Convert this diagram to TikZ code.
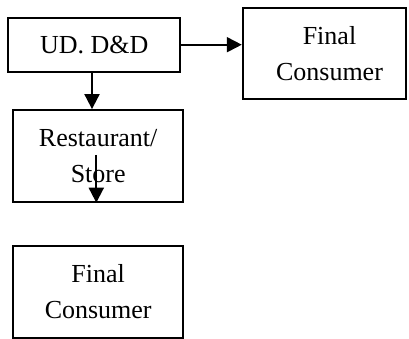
\documentclass[tikz,border=0pt]{standalone}
\usepackage{fontspec}
\setmainfont{Liberation Serif}
\usetikzlibrary{arrows.meta}
\begin{document}
\begin{tikzpicture}[x=1pt,y=1pt,
  box/.style={draw, line width=1.9pt, rectangle, inner sep=0pt, align=center,
    font=\fontsize{26}{36}\selectfont},
  arr/.style={line width=1.9pt, -{Triangle[length=15pt,width=15pt]}},
  txt/.style={inner sep=0pt, align=center, font=\fontsize{26}{36}\selectfont}]
\useasboundingbox (0,0) rectangle (409,-339);
\node[box, minimum width=171.7pt, minimum height=54pt] (ud) at (94.2,-44.7) {UD. D\&D};
\node[box, minimum width=163.3pt, minimum height=90.7pt] (fc1) at (324.4,-53.7) {};
\node[txt] (fc1t) at (329.5,-53.7) {Final\\Consumer};
\node[box, minimum width=169.7pt, minimum height=91.7pt] (rs) at (98.2,-155.9) {Restaurant/\\Store};
\node[box, minimum width=169.7pt, minimum height=92.6pt] (fc2) at (98.2,-292) {Final\\Consumer};
\draw[arr] (ud.east) -- (ud.east -| fc1.west);
\coordinate (d1) at (92,-71.7);
\draw[arr] (d1) -- (d1 |- rs.north);
\coordinate (d2) at (96.3,-155);
\draw[arr] (d2) -- (d2 |- rs.south);
\end{tikzpicture}
\end{document}
